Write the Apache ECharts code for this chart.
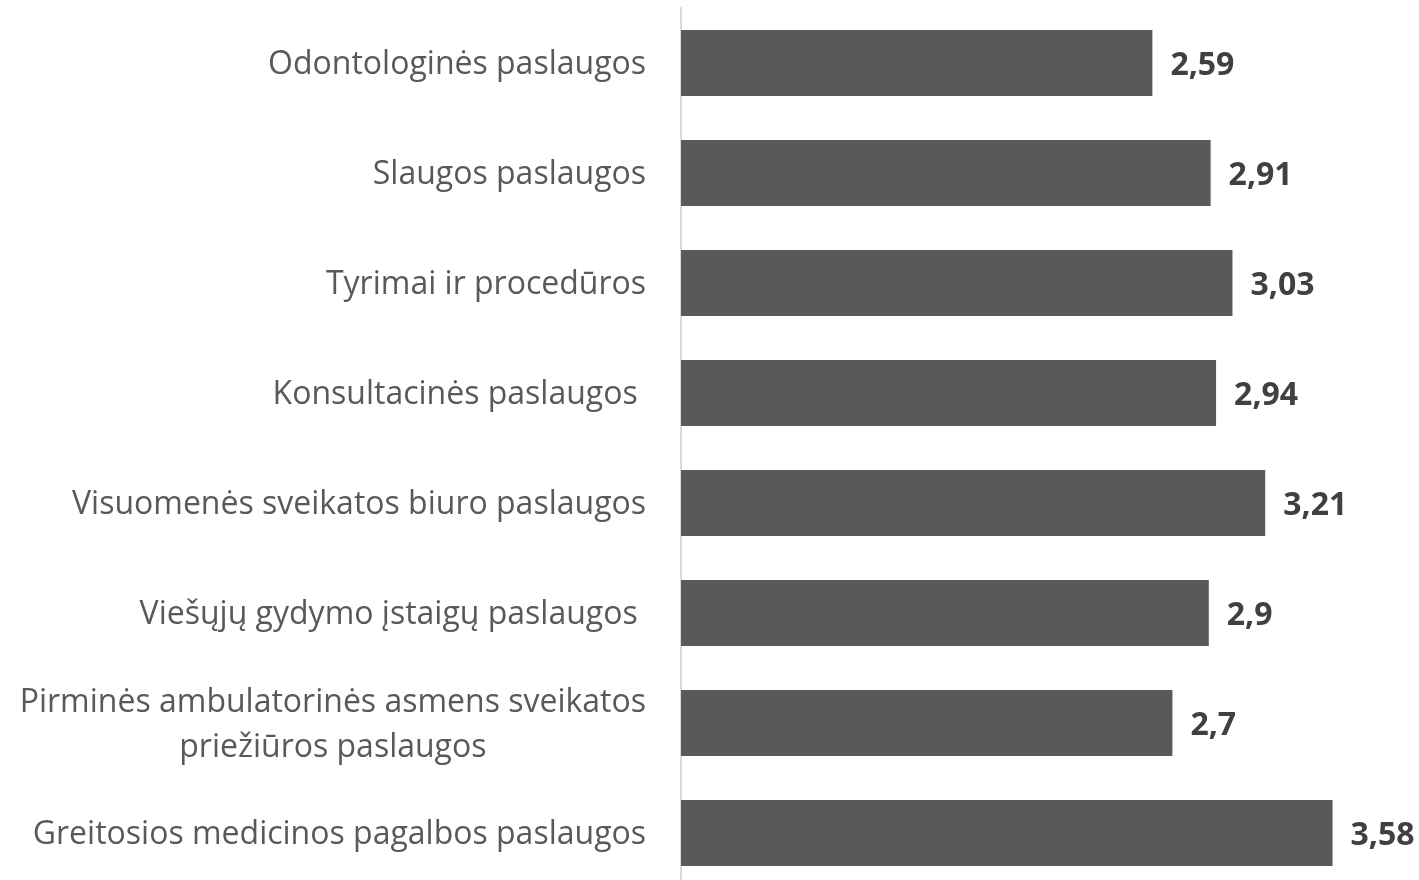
<!DOCTYPE html>
<html>
<head>
<meta charset="utf-8">
<script src="https://cdn.jsdelivr.net/npm/echarts@6/dist/echarts.min.js"></script>
<style>
  html, body { margin: 0; padding: 0; background: #fff; }
  #chart { width: 1419px; height: 880px; }
</style>
</head>
<body>
<div id="chart"></div>
<script>
const categories = [
  'Odontologinės paslaugos',
  'Slaugos paslaugos',
  'Tyrimai ir procedūros',
  'Konsultacinės paslaugos ',
  'Visuomenės sveikatos biuro paslaugos',
  'Viešųjų gydymo įstaigų paslaugos ',
  'Pirminės ambulatorinės asmens sveikatos\npriežiūros paslaugos',
  'Greitosios medicinos pagalbos paslaugos'
]
const values = [2.59, 2.91, 3.03, 2.94, 3.21, 2.9, 2.7, 3.58]

const chart = echarts.init(document.getElementById('chart'))
chart.setOption({
  animation: false,
  grid: {
    left: 681,
    width: 728,
    top: 8,
    height: 880,
    outerBoundsMode: 'none',
    containLabel: false
  },
  xAxis: {
    type: 'value',
    min: 0,
    max: 4,
    show: false
  },
  yAxis: {
    type: 'category',
    inverse: true,
    data: categories,
    axisLine: { lineStyle: { color: '#d9d9d9', width: 2 } },
    axisTick: { show: false },
    axisLabel: {
      margin: 35,
      color: '#595959',
      fontFamily: 'Open Sans',
      fontSize: 32,
      align: 'right',
      padding: [4, 0, 0, 0],
      formatter: v => v.split('\n').map(s => '{c|' + s + '}').join('\n'),
      rich: {
        c: {
          align: 'center',
          color: '#595959',
          fontFamily: 'Open Sans',
          fontSize: 32,
          lineHeight: 45
        }
      }
    }
  },
  series: [{
    type: 'bar',
    data: values,
    barCategoryGap: '40%',
    itemStyle: { color: '#595959' },
    label: {
      show: true,
      position: 'right',
      distance: 18,
      offset: [0, 3],
      color: '#404040',
      fontFamily: 'Open Sans',
      fontWeight: 'bold',
      fontSize: 32,
      formatter: p => String(p.value).replace('.', ',')
    }
  }]
})
</script>
</body>
</html>
